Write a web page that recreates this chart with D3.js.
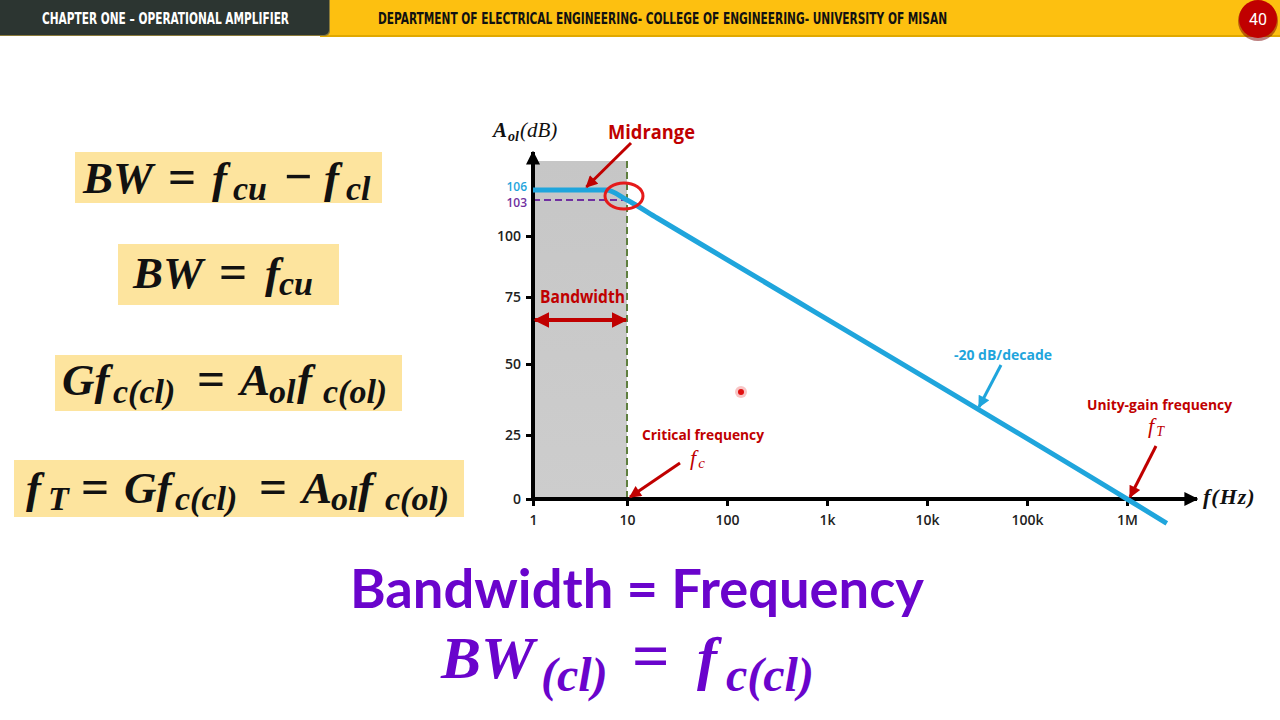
<!DOCTYPE html>
<html>
<head>
<meta charset="utf-8">
<script src="https://cdn.jsdelivr.net/npm/d3@7"></script>
<style>
  html, body { margin: 0; padding: 0; background: #ffffff; }
  svg { display: block; }
</style>
</head>
<body>
<svg id="chart" width="1280" height="720"></svg>
<script>
// ---------- data ----------
const xTickValues = [1, 10, 100, 1e3, 1e4, 1e5, 1e6];
const xTickLabels = ["1", "10", "100", "1k", "10k", "100k", "1M"];
const yTickValues = [0, 25, 50, 75, 100];
const gainFreq = [1, 6, 10, 20, 1e6, 2.5e6];
const gainDb   = [106, 106, 103, 101.5, 0, -9.5];
const midbandGain = 106;
const cornerGain = 103;
const criticalFreq = 10;
const unityFreq = 1e6;

// ---------- setup ----------
const svg = d3.select("#chart");
const RED = "#c00000", BLUE = "#1fa5dc", PURPLE = "#7030a0";
const serif = "'Liberation Serif', 'DejaVu Serif', serif";
const sans = "'Open Sans', 'Noto Sans', sans-serif";

const defs = svg.append("defs");
function marker(id, color, w, h) {
  defs.append("marker").attr("id", id).attr("viewBox", "0 0 10 10")
    .attr("refX", 9).attr("refY", 5).attr("markerWidth", w).attr("markerHeight", h)
    .attr("markerUnits", "userSpaceOnUse").attr("orient", "auto-start-reverse")
    .append("path").attr("d", "M0,0 L10,5 L0,10 Z").attr("fill", color);
}
marker("arRed", RED, 14, 12);
marker("arRedBig", RED, 16, 16);
marker("arBlue", BLUE, 14, 12);
marker("arBlack", "#000", 14, 14);
const grad = defs.append("linearGradient").attr("id", "shade").attr("x1", 0).attr("x2", 0).attr("y1", 0).attr("y2", 1);
grad.append("stop").attr("offset", "0%").attr("stop-color", "#c6c6c6");
grad.append("stop").attr("offset", "100%").attr("stop-color", "#cdcdcd");

// ---------- header ----------
svg.append("rect").attr("x", 320).attr("y", 0).attr("width", 960).attr("height", 37).attr("fill", "#e0a800");
svg.append("rect").attr("x", 320).attr("y", 0).attr("width", 960).attr("height", 35).attr("fill", "#fdc010");
svg.append("rect").attr("x", -10).attr("y", -10).attr("width", 340).attr("height", 46).attr("rx", 5).attr("fill", "#8a7a3a");
svg.append("rect").attr("x", -10).attr("y", -10).attr("width", 339).attr("height", 45).attr("rx", 5).attr("fill", "#2c3531");
svg.append("text").attr("x", 42).attr("y", 24).attr("textLength", 247).attr("lengthAdjust", "spacingAndGlyphs")
  .attr("font-family", "'DejaVu Sans Condensed', 'DejaVu Sans', sans-serif").attr("font-weight", "bold")
  .attr("font-size", 16).attr("fill", "#ffffff").text("CHAPTER ONE – OPERATIONAL AMPLIFIER");
svg.append("text").attr("x", 378).attr("y", 24).attr("textLength", 569).attr("lengthAdjust", "spacingAndGlyphs")
  .attr("font-family", "'DejaVu Sans Condensed', 'DejaVu Sans', sans-serif").attr("font-weight", "bold")
  .attr("font-size", 16).attr("fill", "#111111").text("DEPARTMENT OF ELECTRICAL ENGINEERING- COLLEGE OF ENGINEERING- UNIVERSITY OF MISAN");
svg.append("circle").attr("cx", 1258).attr("cy", 21).attr("r", 20).attr("fill", "#7a0000").attr("opacity", 0.5);
svg.append("circle").attr("cx", 1258).attr("cy", 19).attr("r", 19).attr("fill", "#c00000");
svg.append("text").attr("x", 1258).attr("y", 25).attr("text-anchor", "middle").attr("font-family", "Roboto, sans-serif")
  .attr("font-size", 16).attr("fill", "#ffffff").text("40");

// ---------- formula boxes ----------
// parts: [text, x, isSubscript]
function formula(box, base, subBase, size, subSize, parts, color) {
  if (box) svg.append("rect").attr("x", box[0]).attr("y", box[1]).attr("width", box[2]).attr("height", box[3]).attr("fill", "#fde49e");
  const t = svg.append("text").attr("font-family", serif).attr("font-style", "italic")
    .attr("font-weight", "bold").attr("fill", color || "#111111");
  parts.forEach(p => {
    const s = t.append("tspan").text(p[0]).attr("x", p[1]).attr("y", p[2] ? subBase : base)
      .attr("font-size", p[2] ? subSize : size);
    if (p[0] === "=" || p[0] === "−") s.attr("font-style", "normal").attr("font-size", size * 1.1);
  });
}
formula([75, 152, 307, 51], 193, 200, 45, 34,
  [["BW", 83], ["=", 168], ["f", 212], ["cu", 233, 1], ["−", 284], ["f", 324], ["cl", 346, 1]]);
formula([118, 244, 221, 61], 288, 295, 45, 34,
  [["BW", 133], ["=", 219], ["f", 265], ["cu", 279, 1]]);
formula([55, 355, 347, 56], 395, 403, 45, 34,
  [["Gf", 62], ["c(cl)", 113, 1], ["=", 197], ["A", 240], ["ol", 269, 1], ["f", 297], ["c(ol)", 323, 1]]);
formula([14, 460, 450, 57], 503, 510, 45, 34,
  [["f", 26], ["T", 48, 1], ["=", 81], ["Gf", 124], ["c(cl)", 175, 1], ["=", 259], ["A", 302], ["ol", 331, 1], ["f", 358], ["c(ol)", 385, 1]]);

// ---------- bottom text ----------
svg.append("text").attr("x", 350).attr("y", 608).attr("textLength", 574).attr("lengthAdjust", "spacingAndGlyphs")
  .attr("font-family", "Lato, 'Open Sans', sans-serif").attr("font-weight", "bold").attr("font-size", 54)
  .attr("fill", "#6a04cc").text("Bandwidth = Frequency");
formula(null, 678, 691, 60, 48,
  [["BW", 441], ["(cl)", 541, 1], ["=", 632], ["f", 697], ["c(cl)", 726, 1]], "#6a04cc");

// ---------- scales ----------
const x = d3.scaleLog().domain([1, 10, 1e6]).range([533, 627, 1127]);
const y = d3.scaleLinear().domain([0, 25, 50, 75, 100, 103, 106]).range([499, 435, 364, 297, 236, 200, 190]);
const yTop = 152, xRight = 1197, shadeTop = 161;

// shaded bandwidth area
svg.append("rect").attr("x", x(1)).attr("y", shadeTop).attr("width", x(criticalFreq) - x(1))
  .attr("height", y(0) - shadeTop).attr("fill", "url(#shade)");
// critical frequency dashed line
svg.append("line").attr("x1", x(criticalFreq)).attr("x2", x(criticalFreq)).attr("y1", shadeTop).attr("y2", y(0))
  .attr("stroke", "#5f7f3f").attr("stroke-width", 2).attr("stroke-dasharray", "7,4");
// -3 dB dashed line
svg.append("line").attr("x1", x(1)).attr("x2", x(criticalFreq)).attr("y1", y(cornerGain)).attr("y2", y(cornerGain))
  .attr("stroke", PURPLE).attr("stroke-width", 2).attr("stroke-dasharray", "7,4");

// ---------- axes ----------
const yAxis = svg.append("g").attr("transform", `translate(${x(1)},0)`)
  .call(d3.axisLeft(y).tickValues(yTickValues).tickSize(7).tickPadding(5).tickFormat(d3.format("d")));
const xAxis = svg.append("g").attr("transform", `translate(0,${y(0)})`)
  .call(d3.axisBottom(x).tickValues(xTickValues).tickSize(7).tickPadding(6).tickFormat((d, i) => xTickLabels[i]));
[yAxis, xAxis].forEach(a => {
  a.select(".domain").remove();
  a.selectAll(".tick line").attr("stroke", "#000").attr("stroke-width", 3);
  a.selectAll(".tick text").attr("font-family", sans).attr("font-size", 14).attr("font-weight", 600).attr("fill", "#222");
});
xAxis.selectAll(".tick text").attr("dy", "0.9em");
svg.append("line").attr("x1", x(1)).attr("x2", x(1)).attr("y1", y(0) + 2).attr("y2", yTop)
  .attr("stroke", "#000").attr("stroke-width", 4).attr("marker-end", "url(#arBlack)");
svg.append("line").attr("x1", x(1) - 2).attr("x2", xRight).attr("y1", y(0)).attr("y2", y(0))
  .attr("stroke", "#000").attr("stroke-width", 4).attr("marker-end", "url(#arBlack)");

// special gain labels
svg.append("text").attr("x", 527).attr("y", y(midbandGain) + 1).attr("text-anchor", "end").attr("font-family", sans)
  .attr("font-size", 12).attr("font-weight", 600).attr("fill", BLUE).text(String(midbandGain));
svg.append("text").attr("x", 527).attr("y", y(cornerGain) + 7).attr("text-anchor", "end").attr("font-family", sans)
  .attr("font-size", 12).attr("font-weight", 600).attr("fill", PURPLE).text(String(cornerGain));

// axis titles
const yt = svg.append("text").attr("x", 493).attr("y", 137).attr("font-family", serif).attr("font-style", "italic")
  .attr("font-weight", "bold").attr("font-size", 21).attr("fill", "#111");
yt.append("tspan").text("A");
yt.append("tspan").text("ol").attr("font-size", 14).attr("dy", 4).attr("dx", 1);
yt.append("tspan").text("(dB)").attr("dy", -4).attr("dx", 1).attr("font-weight", "normal");
svg.append("text").attr("x", 1203).attr("y", 504).attr("font-family", serif).attr("font-style", "italic")
  .attr("font-weight", "bold").attr("font-size", 22).attr("letter-spacing", 1).attr("fill", "#111").text("f(Hz)");

// ---------- response curve ----------
const pts = gainFreq.map((f, i) => [f, gainDb[i]]);
svg.append("path").datum(pts)
  .attr("d", d3.line().x(d => x(d[0])).y(d => y(d[1])).curve(d3.curveMonotoneX))
  .attr("fill", "none").attr("stroke", BLUE).attr("stroke-width", 5);

// midrange circle
svg.append("ellipse").attr("cx", x(criticalFreq) - 3).attr("cy", y(cornerGain) - 4).attr("rx", 19).attr("ry", 13)
  .attr("fill", "none").attr("stroke", "#e51a1a").attr("stroke-width", 3);

// ---------- annotations ----------
function label(tx, ty, txt, size, color, len) {
  const t = svg.append("text").attr("x", tx).attr("y", ty).attr("font-family", sans).attr("font-weight", 700)
    .attr("font-size", size).attr("fill", color).text(txt);
  if (len) t.attr("textLength", len).attr("lengthAdjust", "spacingAndGlyphs");
  return t;
}
function arrow(x1, y1, x2, y2, color, m, w) {
  svg.append("line").attr("x1", x1).attr("y1", y1).attr("x2", x2).attr("y2", y2)
    .attr("stroke", color).attr("stroke-width", w || 3).attr("marker-end", `url(#${m})`);
}
label(608, 139, "Midrange", 20, RED, 87);
arrow(x(criticalFreq) + 4, 143, x(3.7), y(midbandGain) - 3, RED, "arRed");

label(540, 303, "Bandwidth", 17, RED, 85);
svg.append("line").attr("x1", x(1) + 2).attr("x2", x(criticalFreq) - 1).attr("y1", 320).attr("y2", 320)
  .attr("stroke", RED).attr("stroke-width", 4).attr("marker-start", "url(#arRedBig)").attr("marker-end", "url(#arRedBig)");

label(642, 440, "Critical frequency", 14, RED, 122);
const fc = svg.append("text").attr("x", 690).attr("y", 465).attr("font-family", serif).attr("font-style", "italic")
  .attr("font-size", 22).attr("fill", RED);
fc.append("tspan").text("f");
fc.append("tspan").text("c").attr("font-size", 15).attr("dy", 3).attr("dx", 2);
arrow(680, 463, x(criticalFreq) + 3, y(0) - 2, RED, "arRed");

label(954, 360, "-20 dB/decade", 14, BLUE, 98);
arrow(1001, 365, 979, 407, BLUE, "arBlue");

label(1087, 410, "Unity-gain frequency", 14, RED, 145);
const ft = svg.append("text").attr("x", 1148).attr("y", 433).attr("font-family", serif).attr("font-style", "italic")
  .attr("font-size", 22).attr("fill", RED);
ft.append("tspan").text("f");
ft.append("tspan").text("T").attr("font-size", 14).attr("dy", 3).attr("dx", 2);
arrow(1156, 446, x(unityFreq) + 3, y(0) - 2, RED, "arRed");

// laser pointer dot
svg.append("circle").attr("cx", 741).attr("cy", 392).attr("r", 6).attr("fill", "#f6b6b6").attr("opacity", 0.8);
svg.append("circle").attr("cx", 741).attr("cy", 392).attr("r", 3).attr("fill", "#e01010");
</script>
</body>
</html>
